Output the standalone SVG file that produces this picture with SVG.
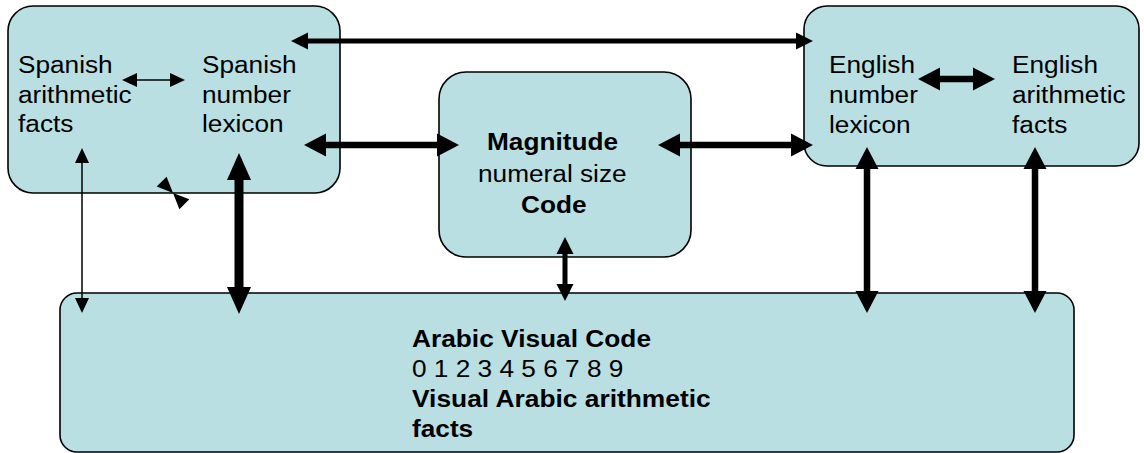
<svg xmlns="http://www.w3.org/2000/svg" width="1144" height="453" viewBox="0 0 1144 453">
<style>
.box{fill:#B9DFE3;stroke:#000;stroke-width:1.6}
.t{font-family:"Liberation Sans",Arial,sans-serif;font-size:23px;fill:#000}
.b{font-weight:bold}
.c{fill:none;stroke:#000}
.thin{stroke-width:1.5;marker-start:url(#hThin);marker-end:url(#hThin)}
.mid{stroke-width:5;marker-start:url(#hMid);marker-end:url(#hMid)}
.med{stroke-width:6.5;marker-start:url(#hMed);marker-end:url(#hMed)}
.thick{stroke-width:9;marker-start:url(#hThick);marker-end:url(#hThick)}
</style>
<defs>
<marker id="hThin" markerUnits="userSpaceOnUse" viewBox="0 -7 15 14" refX="0" refY="0" markerWidth="15" markerHeight="14" orient="auto-start-reverse" overflow="visible"><path d="M0,-7 L15,0 L0,7 Z" fill="#000"/></marker>
<marker id="hMid" markerUnits="userSpaceOnUse" viewBox="0 -8.5 17 17" refX="0" refY="0" markerWidth="17" markerHeight="17" orient="auto-start-reverse" overflow="visible"><path d="M0,-8.5 L17,0 L0,8.5 Z" fill="#000"/></marker>
<marker id="hMed" markerUnits="userSpaceOnUse" viewBox="0 -11.5 22 23" refX="0" refY="0" markerWidth="22" markerHeight="23" orient="auto-start-reverse" overflow="visible"><path d="M0,-11.5 L22,0 L0,11.5 Z" fill="#000"/></marker>
<marker id="hThick" markerUnits="userSpaceOnUse" viewBox="0 -12 27 24" refX="0" refY="0" markerWidth="27" markerHeight="24" orient="auto-start-reverse" overflow="visible"><path d="M0,-12 L27,0 L0,12 Z" fill="#000"/></marker>
</defs>

<g id="spanish">
<rect class="box" x="8" y="6" width="332" height="187" rx="25"/>
<text class="t" x="18" y="73" textLength="94.7" lengthAdjust="spacingAndGlyphs">Spanish</text>
<text class="t" x="18" y="103" textLength="113.6" lengthAdjust="spacingAndGlyphs">arithmetic</text>
<text class="t" x="18" y="132" textLength="55.4" lengthAdjust="spacingAndGlyphs">facts</text>
<text class="t" x="202" y="73" textLength="94.7" lengthAdjust="spacingAndGlyphs">Spanish</text>
<text class="t" x="202" y="103" textLength="88.9" lengthAdjust="spacingAndGlyphs">number</text>
<text class="t" x="202" y="132" textLength="81.6" lengthAdjust="spacingAndGlyphs">lexicon</text>
</g>

<g id="english">
<rect class="box" x="804" y="6" width="335" height="160" rx="23"/>
<text class="t" x="829" y="73" textLength="86" lengthAdjust="spacingAndGlyphs">English</text>
<text class="t" x="829" y="103" textLength="88.9" lengthAdjust="spacingAndGlyphs">number</text>
<text class="t" x="829" y="133" textLength="81.6" lengthAdjust="spacingAndGlyphs">lexicon</text>
<text class="t" x="1012" y="73" textLength="86" lengthAdjust="spacingAndGlyphs">English</text>
<text class="t" x="1012" y="103" textLength="113.6" lengthAdjust="spacingAndGlyphs">arithmetic</text>
<text class="t" x="1012" y="133" textLength="55.4" lengthAdjust="spacingAndGlyphs">facts</text>
</g>

<g id="magnitude">
<rect class="box" x="439" y="72" width="252" height="185" rx="27"/>
<text class="t b" x="487" y="150" textLength="131.1" lengthAdjust="spacingAndGlyphs">Magnitude</text>
<text class="t" x="478" y="182" textLength="148.6" lengthAdjust="spacingAndGlyphs">numeral size</text>
<text class="t b" x="521" y="213" textLength="65.6" lengthAdjust="spacingAndGlyphs">Code</text>
</g>

<g id="arabic">
<rect class="box" x="60" y="293" width="1014" height="159" rx="17"/>
<text class="t b" x="412" y="347" textLength="239" lengthAdjust="spacingAndGlyphs">Arabic Visual Code</text>
<text class="t" x="412" y="377" textLength="211.4" lengthAdjust="spacingAndGlyphs">0 1 2 3 4 5 6 7 8 9</text>
<text class="t b" x="412" y="407" textLength="298.7" lengthAdjust="spacingAndGlyphs">Visual Arabic arithmetic</text>
<text class="t b" x="412" y="437" textLength="61.2" lengthAdjust="spacingAndGlyphs">facts</text>
</g>

<g id="connectors">
<path class="c mid" d="M308,41 H796"/>
<path class="c med" d="M326,145 H437"/>
<path class="c med" d="M680,145 H791"/>
<path class="c mid" d="M565,254 V284"/>
<path class="c thin" d="M137,80 H170"/>
<path class="c thin" d="M82,163 V298"/>
<path class="c thick" d="M239,180 V287"/>
<path class="c med" d="M867,169 V291"/>
<path class="c med" d="M1035,169 V291"/>
<path class="c med" d="M940,79 H973"/>
<polygon points="173,193 166.6,176.7 156.7,186.6" fill="#000"/>
<polygon points="173,193 189.3,199.3 179.4,209.3" fill="#000"/>
</g>
</svg>
